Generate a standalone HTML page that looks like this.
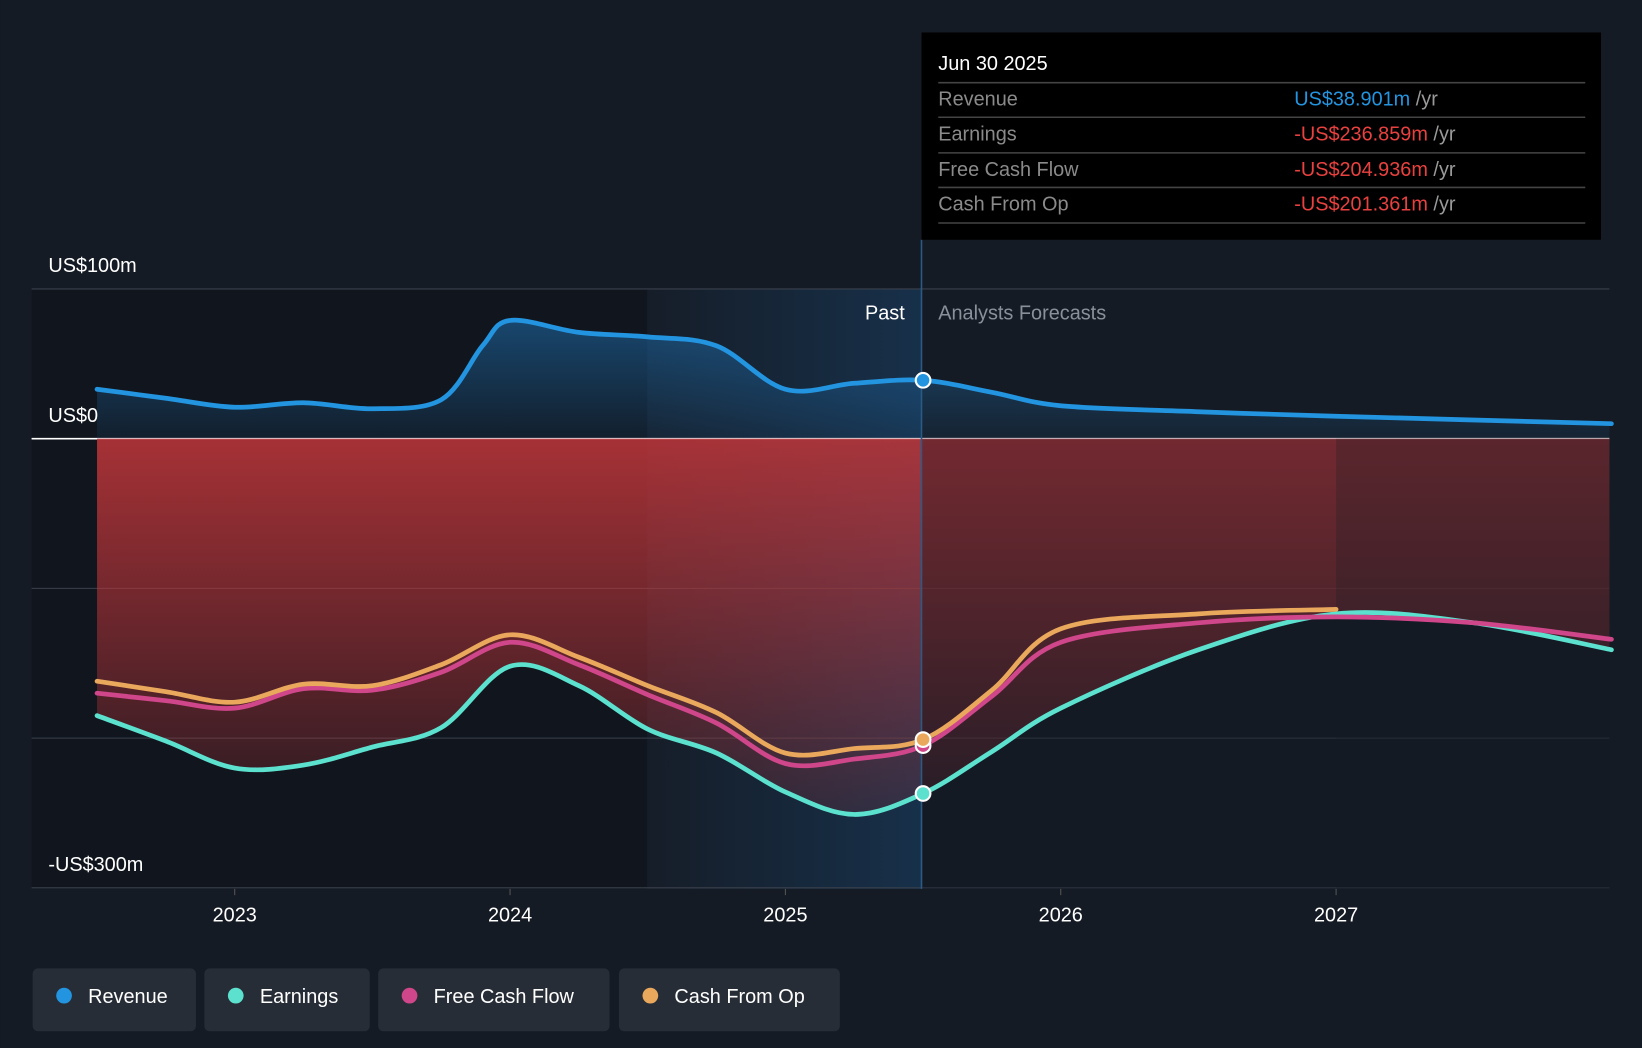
<!DOCTYPE html>
<html><head><meta charset="utf-8"><style>
html,body{margin:0;padding:0;background:#151b24;overflow:hidden}
svg{display:block;font-family:"Liberation Sans",sans-serif}
</style></head><body>
<svg id="chart" width="1642" height="1048" viewBox="0 0 1568 1001" xmlns="http://www.w3.org/2000/svg">
<defs>
<linearGradient id="redg" x1="0" y1="0" x2="0" y2="1"><stop offset="0" stop-color="#c0363a" stop-opacity="0.85"/><stop offset="1" stop-color="#c0363a" stop-opacity="0.15"/></linearGradient>
<linearGradient id="blueg" x1="0" y1="0" x2="0" y2="1"><stop offset="0" stop-color="#1e6fb0" stop-opacity="0.55"/><stop offset="1" stop-color="#1e6fb0" stop-opacity="0.1"/></linearGradient>
<linearGradient id="hl" x1="0" y1="0" x2="1" y2="0"><stop offset="0" stop-color="#1a4a78" stop-opacity="0.05"/><stop offset="1" stop-color="#1a4a78" stop-opacity="0.45"/></linearGradient>
<clipPath id="plotclip"><rect x="30" y="276" width="1507" height="573"/></clipPath>
</defs>
<rect x="0" y="0" width="1568" height="1001" fill="#151b24"/>
<rect x="30" y="276" width="588" height="573" fill="#10141c" opacity="0.7"/>
<rect x="618" y="276" width="262" height="573" fill="url(#hl)"/>
<g id="grid"></g>
<g id="areas" clip-path="url(#plotclip)"></g>
<rect x="880" y="419" width="657" height="430" fill="#151b24" opacity="0.35"/>
<rect x="1276" y="419" width="261" height="430" fill="#151b24" opacity="0.25"/>
<g id="lines"></g>
<line x1="880" y1="229" x2="880" y2="849" stroke="#2a5a86" stroke-width="1.5"/>
<text x="864" y="305" fill="#fff" font-size="19" text-anchor="end">Past</text>
<text x="896" y="305" fill="#8a9099" font-size="19">Analysts Forecasts</text>
<g id="labels"></g>
<g id="dots"></g>
<g>
<rect x="880" y="31" width="649" height="198" fill="#000"/>
<text x="896" y="67" fill="#fff" font-size="19">Jun 30 2025</text>
<g stroke="#444" stroke-width="1.5"><line x1="896" y1="79" x2="1514" y2="79"/><line x1="896" y1="112" x2="1514" y2="112"/><line x1="896" y1="146" x2="1514" y2="146"/><line x1="896" y1="179" x2="1514" y2="179"/><line x1="896" y1="213" x2="1514" y2="213"/></g>
<g font-size="19" fill="#8a8a8a">
<text x="896" y="101">Revenue</text><text x="896" y="134">Earnings</text><text x="896" y="168">Free Cash Flow</text><text x="896" y="201">Cash From Op</text></g>
<g font-size="19">
<text x="1236" y="101"><tspan fill="#2394df">US$38.901m</tspan><tspan fill="#9a9a9a"> /yr</tspan></text>
<text x="1236" y="134"><tspan fill="#e8413f">-US$236.859m</tspan><tspan fill="#9a9a9a"> /yr</tspan></text>
<text x="1236" y="168"><tspan fill="#e8413f">-US$204.936m</tspan><tspan fill="#9a9a9a"> /yr</tspan></text>
<text x="1236" y="201"><tspan fill="#e8413f">-US$201.361m</tspan><tspan fill="#9a9a9a"> /yr</tspan></text></g>
</g>
<g id="legend"></g>
</svg>
<script>
const revT=[2022.5,2022.75,2023,2023.25,2023.5,2023.75,2023.9,2024,2024.25,2024.5,2024.75,2025,2025.25,2025.5,2025.75,2026,2026.5,2027,2028];
const revV=[33,27,21,24,20,26,62,79,71,68,62,33,37,39,31,22,18,15,10];
const earnT=[2022.5,2022.75,2023,2023.25,2023.5,2023.75,2024,2024.25,2024.5,2024.75,2025,2025.25,2025.5,2025.75,2026,2026.5,2027,2027.5,2028];
const earnV=[-185,-202,-220,-218,-206,-193,-152,-165,-194,-210,-236,-251,-237,-209,-180,-141,-117,-123,-141];
const fcfT=earnT;
const fcfV=[-170,-175,-180,-167,-168,-156,-136,-151,-171,-190,-217,-214,-205,-172,-136,-123,-119,-123,-134];
const cfoT=[2022.5,2022.75,2023,2023.25,2023.5,2023.75,2024,2024.25,2024.5,2024.75,2025,2025.25,2025.5,2025.75,2026,2026.5,2027];
const cfoV=[-162,-169,-176,-164,-165,-151,-131,-146,-165,-183,-210,-207,-201,-168,-127,-117,-114];
const yTicks=[100,0,-100,-200,-300];
const yTickLabels=["US$100m","US$0","","","-US$300m"];
const xTicks=[2023,2024,2025,2026,2027];
const markerT=2025.5;
const X=t=>224+(t-2023)*263;
const Y=v=>419-v*1.43;
const NS="http://www.w3.org/2000/svg";
function mk(tag,attrs,parent){const e=document.createElementNS(NS,tag);for(const k in attrs)e.setAttribute(k,attrs[k]);parent.appendChild(e);return e;}
function path(ts,vs){const p=ts.map((t,i)=>[X(t),Y(vs[i])]);let d="M"+p[0][0]+","+p[0][1];
for(let i=0;i<p.length-1;i++){const p0=p[i-1]||p[i],p1=p[i],p2=p[i+1],p3=p[i+2]||p2;
d+=" C"+(p1[0]+(p2[0]-p0[0])/6)+","+(p1[1]+(p2[1]-p0[1])/6)+" "+(p2[0]-(p3[0]-p1[0])/6)+","+(p2[1]-(p3[1]-p1[1])/6)+" "+p2[0]+","+p2[1];}return d;}
function interp(ts,vs,t){for(let i=0;i<ts.length-1;i++)if(t>=ts[i]&&t<=ts[i+1])return vs[i]+(vs[i+1]-vs[i])*(t-ts[i])/(ts[i+1]-ts[i]);return vs[vs.length-1];}
const grid=document.getElementById('grid'),labels=document.getElementById('labels');
yTicks.forEach((v,i)=>{const g=mk('line',{x1:30,x2:1537,y1:Y(v),y2:Y(v),stroke:v===0?"#ffffff":"#3a414c","stroke-width":v===0?1.5:1},grid);


if(yTickLabels[i]){const t=mk('text',{x:46,y:Y(v)-16,fill:"#fff","font-size":19},labels);t.textContent=yTickLabels[i];

}});
xTicks.forEach(v=>{const t=mk('text',{x:X(v),y:880,fill:"#fff","font-size":19,"text-anchor":"middle"},labels);t.textContent=v;


const k=mk('line',{x1:X(v),x2:X(v),y1:849,y2:855,stroke:"#555"},labels);

});
const areas=document.getElementById('areas');
const ep=path(earnT,earnV);
const ra=mk('path',{d:ep+" L"+X(earnT[earnT.length-1])+","+Y(0)+" L"+X(earnT[0])+","+Y(0)+"Z",fill:"url(#redg)"},areas);


const rp=path(revT,revV);
const ba=mk('path',{d:rp+" L"+X(revT[revT.length-1])+","+Y(0)+" L"+X(revT[0])+","+Y(0)+"Z",fill:"url(#blueg)"},areas);


const lines=document.getElementById('lines');
const series=[["revenue-line",revT,revV,"#2394df"],["earnings-line",earnT,earnV,"#5ce1cf"],["fcf-line",fcfT,fcfV,"#d0468a"],["cfo-line",cfoT,cfoV,"#eaa85c"]];
series.forEach(s=>{const l=mk('path',{d:path(s[1],s[2]),fill:"none",stroke:s[3],"stroke-width":4.5,"stroke-linecap":"round"},lines);

});
const dots=document.getElementById('dots');
series.forEach(s=>{const c=mk('circle',{cx:X(markerT),cy:Y(interp(s[1],s[2],markerT)),r:7,fill:s[3],stroke:"#fff","stroke-width":2},dots);

});
const leg=document.getElementById('legend');
const items=[["Revenue","#2394df",31,156],["Earnings","#5ce1cf",195,158],["Free Cash Flow","#d0468a",361,221],["Cash From Op","#eaa85c",591,211]];
items.forEach(it=>{const g=mk('g',{},leg);


mk('rect',{x:it[2],y:925,width:it[3],height:60,rx:5,fill:"#272d37"},g);
mk('circle',{cx:it[2]+30,cy:951,r:7.5,fill:it[1]},g);
const t=mk('text',{x:it[2]+53,y:958,fill:"#fff","font-size":19},g);t.textContent=it[0];});
</script>
</body></html>
